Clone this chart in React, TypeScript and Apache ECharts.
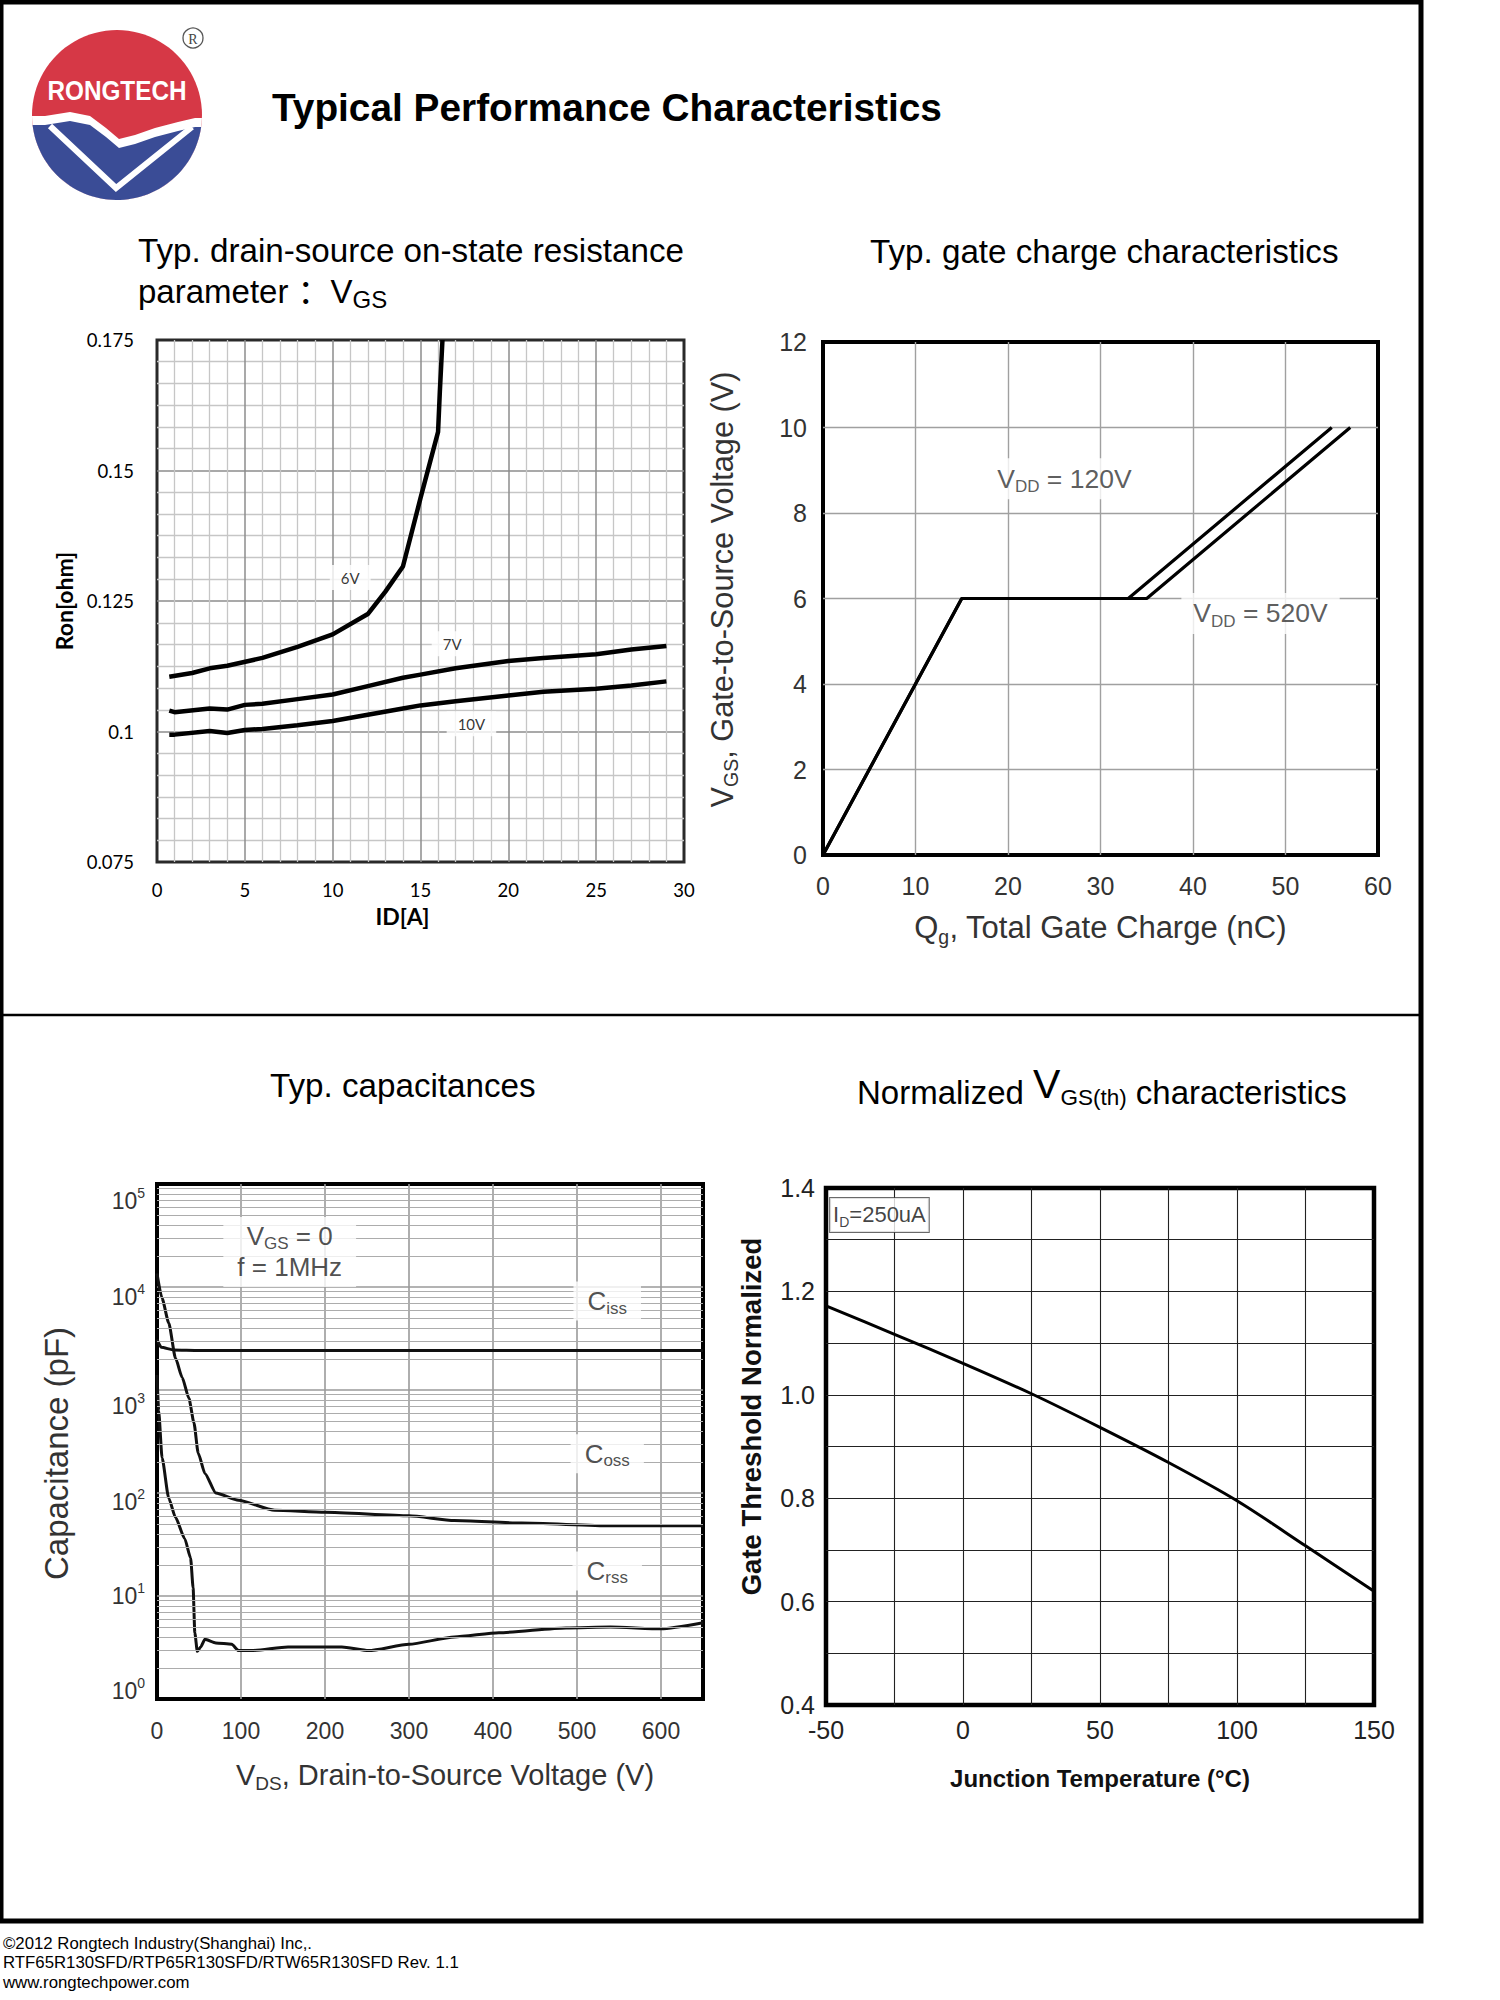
import React, { useEffect, useRef } from "react";
import * as echarts from "echarts";

const ARIAL = "'Liberation Sans', Arial, 'Noto Sans CJK SC', sans-serif";
const CALIBRI = "Lato, 'Open Sans', sans-serif";

// ---------- Chart 1: Ron vs ID, parameter VGS ----------
const id6V = [0.7, 2, 3, 4, 6, 8, 10, 12, 13, 14, 15, 16, 16.1, 16.25];
const ron6V = [0.1105, 0.1112, 0.1121, 0.1126, 0.1141, 0.1162, 0.1186, 0.1225, 0.1268, 0.1316, 0.1447, 0.1574, 0.165, 0.175];
const id7V = [0.7, 1, 3, 4, 5, 6, 8, 10, 12, 14, 15, 17, 20, 22, 25, 27, 29];
const ron7V = [0.104, 0.1037, 0.1044, 0.1042, 0.1051, 0.1053, 0.1062, 0.1071, 0.1087, 0.1103, 0.1109, 0.1121, 0.1135, 0.1141, 0.1148, 0.1157, 0.1164];
const id10V = [0.7, 1, 3, 4, 5, 6, 8, 10, 12, 14, 15, 17, 20, 22, 25, 27, 29];
const ron10V = [0.0994, 0.0994, 0.1001, 0.0997, 0.1003, 0.1005, 0.1012, 0.102, 0.1032, 0.1044, 0.105, 0.1058, 0.1069, 0.1076, 0.1082, 0.1088, 0.1096];
const ronLabelText = ["6V", "7V", "10V"];
const ronLabelX = [11, 16.8, 17.9];
const ronLabelY = [0.1295, 0.1168, 0.1015];

// ---------- Chart 2: gate charge ----------
const qg120 = [0, 15, 33, 55];
const vgs120 = [0, 6, 6, 10];
const qg520 = [0, 15, 35, 57];
const vgs520 = [0, 6, 6, 10];
const gateLabelText = ["{m|V}{s|DD}{m| = 120V}", "{m|V}{s|DD}{m| = 520V}"];
const gateLabelX = [26.1, 47.3];
const gateLabelY = [8.8, 5.65];

// ---------- Chart 3: capacitances ----------
const vdsCiss = [0, 5, 20, 50, 100, 200, 300, 400, 500, 600, 650];
const ciss = [3100, 2600, 2450, 2420, 2420, 2420, 2420, 2420, 2420, 2420, 2420];
const vdsCoss = [0, 6, 14, 22, 30, 38, 44, 49, 57, 70, 97, 140, 200, 300, 354, 434, 540, 650];
const coss = [13500, 7760, 4470, 2040, 1320, 830, 480, 245, 155, 100, 85, 68, 65, 60, 54, 51, 48, 48];
const vdsCrss = [0, 2, 6, 14, 22, 33, 40, 43, 45, 48, 52, 57, 70, 89, 97, 113, 156, 220, 252, 300, 354, 407, 487, 540, 600, 650];
const crss = [1400, 630, 220, 89, 58, 36, 23.4, 12, 4.4, 2.9, 3.2, 3.8, 3.5, 3.4, 2.95, 2.95, 3.2, 3.2, 2.95, 3.4, 4.0, 4.4, 4.9, 5.0, 4.8, 5.5];
const capLabelText = [
  "{v|V}{s|GS}{v| = 0}\n{v|f = 1MHz}",
  "{v|C}{s|iss}",
  "{v|C}{s|oss}",
  "{v|C}{s|rss}",
];
const capLabelX = [158, 536, 536, 536];
const capLabelY = [21900, 7300, 240, 17.5];
const capDecades = [1, 10, 100, 1000, 10000];
const capMinorFactors = [2, 3, 4, 5, 6, 7, 8, 9];
const capExponents = [0, 1, 2, 3, 4, 5];

// ---------- Chart 4: normalized VGS(th) ----------
const tj = [-50, -25, 0, 25, 50, 75, 100, 125, 150];
const vthNorm = [1.172, 1.117, 1.061, 1.002, 0.937, 0.869, 0.795, 0.708, 0.62];
const vthLabelText = ["{m|I}{s|D}{m|=250uA}"];
const vthLabelX = [-30.5];
const vthLabelY = [1.348];

const footerLines = [
  "©2012 Rongtech Industry(Shanghai) Inc,.",
  "RTF65R130SFD/RTP65R130SFD/RTW65R130SFD Rev. 1.1",
  "www.rongtechpower.com",
];

const zip = (xs: number[], ys: number[]) => xs.map((x, i) => [x, ys[i]]);

// ---------- logo geometry helpers (decoration) ----------
const LOGO = { cx: 117, cy: 115, r: 85 };
const waveTop = [
  [45, 116], [70, 112], [90, 116], [106, 128], [119, 139], [135, 135], [155, 128], [178, 122], [195, 118],
];
function lowerRegion(wave: number[][], shift: number) {
  const pts = wave.map(([x, y]) => [x, y + shift]);
  const yL = pts[0][1];
  const yR = pts[pts.length - 1][1];
  const xL = LOGO.cx - Math.sqrt(LOGO.r * LOGO.r - (yL - LOGO.cy) * (yL - LOGO.cy));
  const xR = LOGO.cx + Math.sqrt(LOGO.r * LOGO.r - (yR - LOGO.cy) * (yR - LOGO.cy));
  const aR = Math.atan2(yR - LOGO.cy, xR - LOGO.cx);
  const aL = Math.atan2(yL - LOGO.cy, xL - LOGO.cx);
  const arc: number[][] = [];
  for (let i = 1; i < 60; i++) {
    const a = aR + ((aL - aR) * i) / 60;
    arc.push([LOGO.cx + LOGO.r * Math.cos(a), LOGO.cy + LOGO.r * Math.sin(a)]);
  }
  return [[xL, yL], ...pts, [xR, yR], ...arc];
}

function textEl(text: string, x: number, y: number, size: number, opts: any = {}) {
  const { align = "left", vAlign = "middle", weight = "normal", family = ARIAL, fill = "#000", rich, scaleX } = opts;
  const el: any = {
    type: "text",
    x,
    y,
    silent: true,
    style: {
      text,
      fontSize: size,
      fontFamily: family,
      fontWeight: weight,
      fill,
      align,
      textAlign: align,
      verticalAlign: vAlign,
      textVerticalAlign: vAlign,
      rich,
    },
  };
  if (scaleX) el.scaleX = scaleX;
  return el;
}

function vPad(shift: number) {
  return shift >= 0 ? [2 * shift, 0, 0, 0] : [0, 0, -2 * shift, 0];
}

function buildOption(): any {
  const gray = "#333";
  const subRich = (main: number, sub: number, color: string, family = ARIAL, weight = "normal") => ({
    m: { fontSize: main, lineHeight: Math.round(main * 1.25), color, fontFamily: family, fontWeight: weight },
    v: { fontSize: main, lineHeight: Math.round(main * 1.2), color, fontFamily: family, fontWeight: weight },
    s: { fontSize: sub, lineHeight: sub, verticalAlign: "bottom", color, fontFamily: family, fontWeight: weight },
  });

  const minorLines: any[] = [];
  capDecades.forEach((d) => capMinorFactors.forEach((f) => minorLines.push({ yAxis: d * f })));

  // per-decade vertical nudge of the log tick labels (as placed in the original sheet)
  const capLabelShift = [-8, 0, 9, 16, 10, 17];
  const supRaise = 8;
  const capTickRich: any = {};
  capExponents.forEach((n) => {
    const d = capLabelShift[n];
    capTickRich["b" + n] = { fontSize: 23, lineHeight: 30, color: gray, fontFamily: ARIAL, padding: vPad(d) };
    capTickRich["e" + n] = { fontSize: 14, lineHeight: 30, color: gray, fontFamily: ARIAL, padding: vPad(d - supRaise) };
  });

  const titleRich = (a: number, v: number, s: number) => ({
    a: { fontSize: a, lineHeight: 44, verticalAlign: "bottom", fontFamily: ARIAL, fill: "#000", color: "#000" },
    v: { fontSize: v, lineHeight: 50, fontFamily: ARIAL, fill: "#000", color: "#000" },
    s: { fontSize: s, lineHeight: 40, verticalAlign: "bottom", fontFamily: ARIAL, fill: "#000", color: "#000" },
  });

  return {
    animation: false,
    backgroundColor: "#fff",
    grid: [
      { left: 157, top: 340, width: 527, height: 522, show: true, borderColor: "#2a2a2a", borderWidth: 3, backgroundColor: "transparent" },
      { left: 823, top: 342, width: 555, height: 513, show: true, borderColor: "#000", borderWidth: 4, backgroundColor: "transparent" },
      { left: 157, top: 1184, width: 546, height: 515, show: true, borderColor: "#000", borderWidth: 4, backgroundColor: "transparent" },
      { left: 826, top: 1188, width: 548, height: 517, show: true, borderColor: "#000", borderWidth: 4.5, backgroundColor: "transparent" },
    ],
    xAxis: [
      {
        gridIndex: 0, type: "value", min: 0, max: 30, interval: 5,
        axisLine: { show: false }, axisTick: { show: false },
        axisLabel: { margin: 18, color: "#000", fontSize: 18.5, fontFamily: CALIBRI },
        splitLine: { show: true, showMinLine: false, showMaxLine: false, lineStyle: { color: "#8c8c8c", width: 1.5 } },
        minorTick: { show: false, splitNumber: 5 },
        minorSplitLine: { show: true, lineStyle: { color: "#c6c6c6", width: 1.3 } },
        name: "ID[A]", nameLocation: "middle", nameGap: 42,
        nameTextStyle: { fontFamily: CALIBRI, fontWeight: "bold", fontSize: 23, color: "#000", padding: [0, 36, 0, 0] },
      },
      {
        gridIndex: 1, type: "value", min: 0, max: 60, interval: 10,
        axisLine: { show: false }, axisTick: { show: false },
        axisLabel: { margin: 18, color: gray, fontSize: 25, fontFamily: ARIAL },
        splitLine: { show: true, showMinLine: false, showMaxLine: false, lineStyle: { color: "#a0a0a0", width: 1.4 } },
        name: "{m|Q}{s|g}{m|, Total Gate Charge (nC)}", nameLocation: "middle", nameGap: 53,
        nameTextStyle: { rich: subRich(31, 19.5, gray) },
      },
      {
        gridIndex: 2, type: "value", min: 0, max: 650, interval: 100,
        axisLine: { show: false }, axisTick: { show: false },
        axisLabel: { margin: 20, color: gray, fontSize: 23, fontFamily: ARIAL, showMaxLabel: false },
        splitLine: { show: true, showMinLine: false, showMaxLine: false, lineStyle: { color: "#9a9a9a", width: 1.6 } },
        name: "{m|V}{s|DS}{m|, Drain-to-Source Voltage (V)}", nameLocation: "middle", nameGap: 58,
        nameTextStyle: { rich: subRich(29, 19, gray), padding: [0, 0, 0, 30] },
      },
      {
        gridIndex: 3, type: "value", min: -50, max: 150, interval: 25,
        axisLine: { show: false }, axisTick: { show: false },
        axisLabel: {
          margin: 12, color: "#222", fontSize: 25, fontFamily: ARIAL,
          formatter: (v: number) => (Math.round(v) % 50 === 0 ? String(v) : ""),
        },
        splitLine: { show: true, showMinLine: false, showMaxLine: false, lineStyle: { color: "#222", width: 1.1 } },
        name: "Junction Temperature (°C)", nameLocation: "middle", nameGap: 61,
        nameTextStyle: { fontFamily: ARIAL, fontWeight: "bold", fontSize: 24, color: "#111" },
      },
    ],
    yAxis: [
      {
        gridIndex: 0, type: "value", min: 0.075, max: 0.175, interval: 0.025,
        axisLine: { show: false }, axisTick: { show: false },
        axisLabel: { margin: 23, color: "#000", fontSize: 18.5, fontFamily: CALIBRI },
        splitLine: { show: true, showMinLine: false, showMaxLine: false, lineStyle: { color: "#8c8c8c", width: 1.5 } },
        minorTick: { show: false, splitNumber: 6 },
        minorSplitLine: { show: true, lineStyle: { color: "#c6c6c6", width: 1.3 } },
        name: "Ron[ohm]", nameLocation: "middle", nameGap: 82,
        nameTextStyle: { fontFamily: CALIBRI, fontWeight: "bold", fontSize: 23, color: "#000" },
      },
      {
        gridIndex: 1, type: "value", min: 0, max: 12, interval: 2,
        axisLine: { show: false }, axisTick: { show: false },
        axisLabel: { margin: 16, color: gray, fontSize: 25, fontFamily: ARIAL },
        splitLine: { show: true, showMinLine: false, showMaxLine: false, lineStyle: { color: "#a0a0a0", width: 1.4 } },
        name: "{m|V}{s|GS}{m|, Gate-to-Source Voltage (V)}", nameLocation: "middle", nameGap: 82,
        nameTextStyle: { rich: subRich(30.7, 19.5, gray), padding: [0, 0, 0, 18] },
      },
      {
        gridIndex: 2, type: "log", min: 1, max: 100000, logBase: 10, splitNumber: 5,
        axisLine: { show: false }, axisTick: { show: false },
        axisLabel: {
          margin: 12,
          formatter: (v: number) => {
            const n = Math.round(Math.log10(v));
            return `{b${n}|10}{e${n}|${n}}`;
          },
          rich: capTickRich,
        },
        splitLine: { show: true, showMinLine: false, showMaxLine: false, lineStyle: { color: "#9a9a9a", width: 1.6 } },
        name: "Capacitance (pF)", nameLocation: "middle", nameGap: 84,
        nameTextStyle: { fontFamily: ARIAL, fontSize: 33, color: gray, padding: [0, 24, 0, 0] },
      },
      {
        gridIndex: 3, type: "value", min: 0.4, max: 1.4, interval: 0.1,
        axisLine: { show: false }, axisTick: { show: false },
        axisLabel: {
          margin: 11, color: "#222", fontSize: 25, fontFamily: ARIAL,
          formatter: (v: number) => (Math.round(v * 10) % 2 === 0 ? v.toFixed(1) : ""),
        },
        splitLine: { show: true, showMinLine: false, showMaxLine: false, lineStyle: { color: "#222", width: 1.1 } },
        name: "Gate Threshold Normalized", nameLocation: "middle", nameGap: 61,
        nameTextStyle: { fontFamily: ARIAL, fontWeight: "bold", fontSize: 27.5, color: "#111", padding: [0, 0, 0, 60] },
      },
    ],
    series: [
      // chart 1
      { type: "line", xAxisIndex: 0, yAxisIndex: 0, data: zip(id6V, ron6V), showSymbol: false, lineStyle: { color: "#000", width: 4.5 }, z: 3 },
      { type: "line", xAxisIndex: 0, yAxisIndex: 0, data: zip(id7V, ron7V), showSymbol: false, lineStyle: { color: "#000", width: 4.5 }, z: 3 },
      { type: "line", xAxisIndex: 0, yAxisIndex: 0, data: zip(id10V, ron10V), showSymbol: false, lineStyle: { color: "#000", width: 4.5 }, z: 3 },
      {
        type: "scatter", xAxisIndex: 0, yAxisIndex: 0, symbolSize: 1, itemStyle: { color: "transparent" }, z: 10, silent: true,
        data: ronLabelText.map((t, i) => ({ name: t, value: [ronLabelX[i], ronLabelY[i]] })),
        label: {
          show: true, position: "inside", formatter: (p: any) => p.name,
          fontFamily: CALIBRI, fontSize: 15, color: "#000", backgroundColor: "#fff", padding: [5, 11],
        },
      },
      // chart 2
      { type: "line", xAxisIndex: 1, yAxisIndex: 1, data: zip(qg120, vgs120), showSymbol: false, lineStyle: { color: "#000", width: 3.2 }, z: 3 },
      { type: "line", xAxisIndex: 1, yAxisIndex: 1, data: zip(qg520, vgs520), showSymbol: false, lineStyle: { color: "#000", width: 3.2 }, z: 3 },
      {
        type: "scatter", xAxisIndex: 1, yAxisIndex: 1, symbolSize: 1, itemStyle: { color: "transparent" }, z: 10, silent: true,
        data: gateLabelText.map((t, i) => ({ name: t, value: [gateLabelX[i], gateLabelY[i]] })),
        label: {
          show: true, position: "inside", formatter: (p: any) => p.name,
          rich: subRich(26.5, 17, gray), backgroundColor: "#fff", padding: [4, 12],
        },
      },
      // chart 3 minor grid (log minor lines)
      {
        type: "line", xAxisIndex: 2, yAxisIndex: 2, data: [], z: 1, silent: true,
        markLine: {
          silent: true, symbol: ["none", "none"], label: { show: false },
          lineStyle: { type: "solid", color: "#acacac", width: 1.2 },
          data: minorLines,
        },
      },
      { type: "line", xAxisIndex: 2, yAxisIndex: 2, data: zip(vdsCiss, ciss), showSymbol: false, smooth: 0.2, smoothMonotone: "x", lineStyle: { color: "#111", width: 3 }, z: 3 },
      { type: "line", xAxisIndex: 2, yAxisIndex: 2, data: zip(vdsCoss, coss), showSymbol: false, smooth: 0.2, smoothMonotone: "x", lineStyle: { color: "#111", width: 3 }, z: 3 },
      { type: "line", xAxisIndex: 2, yAxisIndex: 2, data: zip(vdsCrss, crss), showSymbol: false, smooth: 0.2, smoothMonotone: "x", lineStyle: { color: "#111", width: 3 }, z: 3 },
      {
        type: "scatter", xAxisIndex: 2, yAxisIndex: 2, symbolSize: 1, itemStyle: { color: "transparent" }, z: 10, silent: true,
        data: capLabelText.map((t, i) => ({ name: t, value: [capLabelX[i], capLabelY[i]] })),
        label: {
          show: true, position: "inside", formatter: (p: any) => p.name,
          rich: subRich(26, 17, "#222"), backgroundColor: "#fff", padding: [4, 14],
        },
      },
      // chart 4
      { type: "line", xAxisIndex: 3, yAxisIndex: 3, data: zip(tj, vthNorm), showSymbol: false, smooth: 0.3, lineStyle: { color: "#000", width: 3 }, z: 3 },
      {
        type: "scatter", xAxisIndex: 3, yAxisIndex: 3, symbolSize: 1, itemStyle: { color: "transparent" }, z: 10, silent: true,
        data: vthLabelText.map((t, i) => ({ name: t, value: [vthLabelX[i], vthLabelY[i]] })),
        label: {
          show: true, position: "inside", formatter: (p: any) => p.name,
          rich: subRich(22, 14, "#111"), backgroundColor: "#fff", borderColor: "#444", borderWidth: 1, padding: [3, 3],
        },
      },
    ],
    graphic: {
      elements: [
        // page frame
        { type: "rect", shape: { x: 1, y: 2, width: 1420, height: 1919 }, style: { fill: "none", stroke: "#000", lineWidth: 5 }, silent: true },
        { type: "line", shape: { x1: 0, y1: 1015, x2: 1421, y2: 1015 }, style: { stroke: "#000", lineWidth: 2.5 }, silent: true },
        // logo
        { type: "circle", shape: { cx: LOGO.cx, cy: LOGO.cy, r: LOGO.r }, style: { fill: "#d63846" }, silent: true },
        { type: "polygon", shape: { points: lowerRegion(waveTop, 0) }, style: { fill: "#ffffff" }, silent: true },
        { type: "polygon", shape: { points: lowerRegion(waveTop, 9) }, style: { fill: "#3a4c96" }, silent: true },
        { type: "polyline", shape: { points: [[50, 126], [116, 188], [192, 127]] }, style: { stroke: "#fff", lineWidth: 6, fill: null, lineJoin: "miter" }, silent: true },
        textEl("RONGTECH", 117, 91, 27, { align: "center", weight: "bold", fill: "#fff", scaleX: 0.9 }),
        { type: "circle", shape: { cx: 193, cy: 38, r: 10 }, style: { fill: "none", stroke: "#555", lineWidth: 1.3 }, silent: true },
        textEl("R", 193, 39, 14, { align: "center", family: "'Liberation Serif', 'DejaVu Serif', serif", fill: "#444" }),
        // main title
        textEl("Typical Performance Characteristics", 272, 107, 38.8, { weight: "bold" }),
        // chart titles
        textEl("Typ. drain-source on-state resistance", 138, 250, 33.2),
        textEl("{a|parameter ：V}{s|GS}", 138, 291, 33, {
          rich: {
            a: { fontSize: 33, lineHeight: 40, fontFamily: ARIAL, fill: "#000", color: "#000" },
            s: { fontSize: 24, lineHeight: 36, verticalAlign: "bottom", fontFamily: ARIAL, fill: "#000", color: "#000" },
          },
        }),
        textEl("Typ. gate charge characteristics", 870, 251, 33.2),
        textEl("Typ. capacitances", 270, 1085, 33.2),
        textEl("{a|Normalized }{v|V}{s|GS(th)}{a| characteristics}", 857, 1084, 33, { rich: titleRich(33, 41, 22.5) }),
        // footer
        ...footerLines.map((t, i) => textEl(t, 3, 1943 + i * 19.5, 16.8)),
      ],
    },
  };
}

export default function App() {
  const ref = useRef<HTMLDivElement>(null);
  useEffect(() => {
    if (!ref.current) return;
    const chart = echarts.init(ref.current, undefined, { renderer: "svg", width: 1500, height: 2000 });
    chart.setOption(buildOption());
    return () => chart.dispose();
  }, []);
  return (
    <div
      ref={ref}
      style={{ position: "absolute", left: 0, top: 0, width: 1500, height: 2000, background: "#fff" }}
    />
  );
}
